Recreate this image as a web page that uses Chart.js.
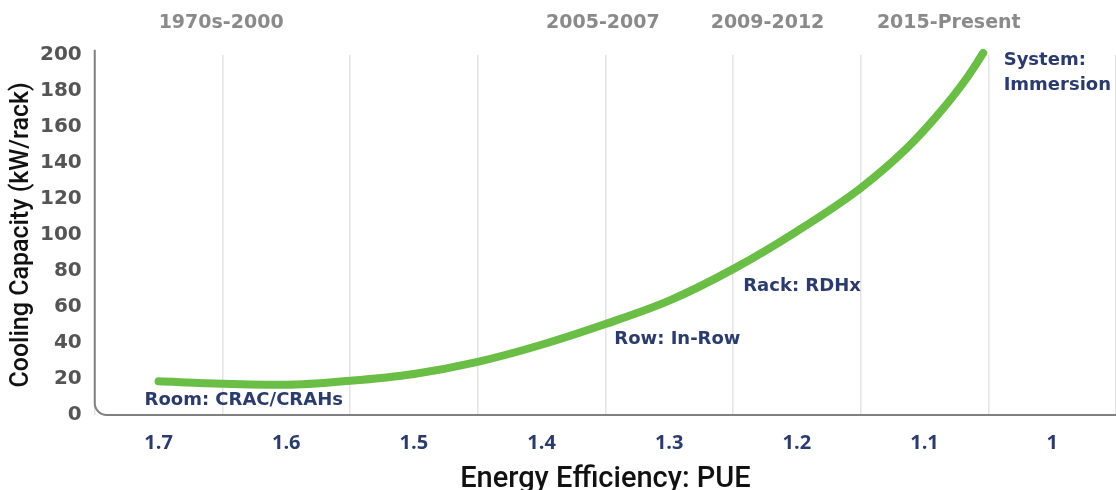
<!DOCTYPE html>
<html>
<head>
<meta charset="utf-8">
<script src="https://cdn.jsdelivr.net/npm/chart.js@4/dist/chart.umd.min.js"></script>
<style>
  body { margin: 0; background: #fff; }
</style>
</head>
<body>
<canvas id="chart" width="1116" height="490"></canvas>
<script>
// PUE (x) vs cooling capacity in kW/rack (y)
const pue = [1.70, 1.65, 1.60, 1.55, 1.50, 1.45, 1.40, 1.35, 1.30, 1.25, 1.20, 1.15, 1.114, 1.088, 1.067, 1.054];
const capacity = [18.7, 17.4, 16.8, 19, 22.8, 29.5, 39, 50.5, 63.5, 81, 102, 126, 148, 168, 187, 201];

const pueTicks = [1.7, 1.6, 1.5, 1.4, 1.3, 1.2, 1.1, 1];
const capacityTicks = [0, 20, 40, 60, 80, 100, 120, 140, 160, 180, 200];

const eraLabels = ['1970s-2000', '2005-2007', '2009-2012', '2015-Present'];
const eraPue = [1.651, 1.352, 1.223, 1.081];

const techLabels = ['Room: CRAC/CRAHs', 'Row: In-Row', 'Rack: RDHx', 'System:', 'Immersion'];
const techPue = [1.711, 1.343, 1.242, 1.038, 1.038];
const techCapacity = [8, 42, 71.7, 197, 183];

const navy = '#2a3b6c';
const green = '#6abd45';
const half = 0.05;
const xMin = pueTicks[pueTicks.length - 1] - half;
const xMax = pueTicks[0] + half;

const round2 = (v) => Math.round(v * 100) / 100;
const isLabelTick = (v) => pueTicks.some((t) => Math.abs(t - v) < 1e-6);

// axis lines with the rounded bottom-left corner
const axisLines = {
  id: 'axisLines',
  beforeDatasetsDraw(chart) {
    const { ctx, chartArea } = chart;
    const r = 12;
    ctx.save();
    ctx.strokeStyle = '#808080';
    ctx.lineWidth = 2;
    ctx.beginPath();
    ctx.moveTo(chartArea.left, chartArea.top - 5);
    ctx.lineTo(chartArea.left, chartArea.bottom - r);
    ctx.arcTo(chartArea.left, chartArea.bottom, chartArea.left + r, chartArea.bottom, r);
    ctx.lineTo(chartArea.right, chartArea.bottom);
    ctx.stroke();
    ctx.restore();
  },
};

const techText = {
  id: 'techText',
  afterDatasetsDraw(chart) {
    const { ctx, scales } = chart;
    ctx.save();
    ctx.fillStyle = navy;
    ctx.font = 'bold 18px "DejaVu Sans"';
    ctx.textAlign = 'left';
    ctx.textBaseline = 'middle';
    techLabels.forEach((label, i) => {
      ctx.fillText(label, scales.x.getPixelForValue(techPue[i]), scales.y.getPixelForValue(techCapacity[i]));
    });
    ctx.restore();
  },
};

new Chart(document.getElementById('chart'), {
  type: 'line',
  data: {
    datasets: [
      {
        data: pue.map((x, i) => ({ x, y: capacity[i] })),
        borderColor: green,
        borderWidth: 8,
        borderCapStyle: 'round',
        pointRadius: 0,
        cubicInterpolationMode: 'monotone',
        clip: false,
      },
    ],
  },
  options: {
    responsive: false,
    animation: false,
    layout: { padding: { top: -8, left: 9, right: 0, bottom: 0 } },
    plugins: { legend: { display: false }, tooltip: { enabled: false } },
    scales: {
      x: {
        type: 'linear',
        reverse: true,
        min: xMin,
        max: xMax,
        afterBuildTicks(axis) {
          const ticks = [];
          for (let k = 0; k <= pueTicks.length * 2; k++) ticks.push({ value: round2(xMin + k * half) });
          axis.ticks = ticks;
        },
        ticks: {
          autoSkip: false,
          maxRotation: 0,
          padding: 16,
          color: navy,
          font: { family: 'Open Sans', weight: 'bold', size: 20 },
          callback: (v) => (isLabelTick(v) ? String(round2(v)) : ''),
        },
        grid: {
          drawTicks: false,
          color: (c) => (c.tick && !isLabelTick(c.tick.value) ? '#e4e4e4' : 'rgba(0,0,0,0)'),
          lineWidth: 1.5,
        },
        border: { display: false },
        title: {
          display: true,
          text: 'Energy Efficiency: PUE',
          color: '#111',
          font: { family: 'Roboto', weight: '500', size: 29, lineHeight: 1 },
          padding: { top: -6, bottom: -4 },
        },
      },
      era: {
        type: 'linear',
        position: 'top',
        reverse: true,
        min: xMin,
        max: xMax,
        afterBuildTicks(axis) {
          axis.ticks = eraPue.map((v) => ({ value: v }));
        },
        ticks: {
          autoSkip: false,
          maxRotation: 0,
          padding: 20,
          color: '#8a8a8a',
          font: { family: 'DejaVu Sans', weight: 'bold', size: 19 },
          callback: (v, i) => eraLabels[i],
        },
        grid: { display: false, drawTicks: false },
        border: { display: false },
      },
      y: {
        min: 0,
        max: 200,
        afterBuildTicks(axis) {
          axis.ticks = capacityTicks.map((v) => ({ value: v }));
        },
        ticks: {
          padding: 13,
          color: '#555',
          font: { family: 'DejaVu Sans', weight: 'bold', size: 20 },
        },
        grid: { display: false, drawTicks: false },
        border: { display: false },
        title: {
          display: true,
          text: 'Cooling Capacity (kW/rack)',
          color: '#111',
          font: { family: 'Roboto', weight: '500', size: 25, lineHeight: 1 },
          padding: { top: 0, bottom: -7 },
        },
      },
    },
  },
  plugins: [axisLines, techText],
});
</script>
</body>
</html>
